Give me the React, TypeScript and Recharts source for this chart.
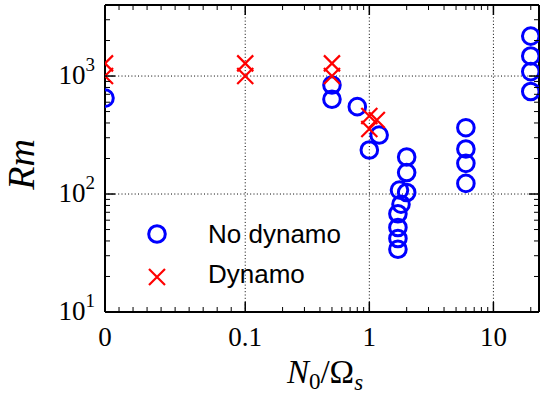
import { Legend, ReferenceLine, Scatter, ScatterChart, XAxis, YAxis } from "recharts";

// N0/Omega_s and Rm for the runs without and with a dynamo
const noDynamoN = [0, 0.5, 0.5, 0.8, 1.0, 1.2, 1.7, 1.7, 1.7, 1.7, 1.8, 1.75, 2, 2, 2, 6, 6, 6, 6, 20, 20, 20, 20];
const noDynamoRm = [650, 840, 635, 550, 236, 316, 34, 42, 52, 68, 82, 108, 103, 152, 206, 123, 182, 241, 365, 740, 1090, 1480, 2180];
const dynamoN = [0, 0, 0.1, 0.1, 0.5, 0.5, 1.0, 1.0, 1.15];
const dynamoRm = [1000, 1280, 1000, 1280, 1000, 1280, 356, 458, 424];

const seriesNames = ["No dynamo", "Dynamo"];

const xMajor = [0, 0.1, 1, 10];
const xTickLabels = ["0", "0.1", "1", "10"];
const xMinor = [
  0.01, 0.02, 0.03, 0.04, 0.05, 0.06, 0.07, 0.08, 0.09,
  0.2, 0.3, 0.4, 0.5, 0.6, 0.7, 0.8, 0.9,
  2, 3, 4, 5, 6, 7, 8, 9, 20,
];
const yMajor = [10, 100, 1000];
const yTickExponents = ["1", "2", "3"];
const yMinor = [20, 30, 40, 50, 60, 70, 80, 90, 200, 300, 400, 500, 600, 700, 800, 900, 2000, 3000];

const X_MAX = 23.3;
const Y_DOMAIN = [10, 4000];

// symlog-style axis: linear below 0.1, log above
const LIN_THRESH = 0.1;
const LIN_WIDTH = 1.13;
const symlog = (v: number) =>
  v <= LIN_THRESH ? (v / LIN_THRESH) * LIN_WIDTH : LIN_WIDTH + Math.log10(v / LIN_THRESH);

const SERIF = "'Liberation Serif', 'DejaVu Serif', serif";
const SANS = "'Liberation Sans', Arial, sans-serif";

const noDynamo = noDynamoN.map((n, i) => ({ x: symlog(n), y: noDynamoRm[i] }));
const dynamo = dynamoN.map((n, i) => ({ x: symlog(n), y: dynamoRm[i] }));

const xMajorT = xMajor.map(symlog);
const xTicks = [...xMajor, ...xMinor].map(symlog).sort((a, b) => a - b);
const yTicks = [...yMajor, ...yMinor].sort((a, b) => a - b);

const majorX = (v: number) => xMajorT.findIndex((t) => Math.abs(t - v) < 1e-6);
const majorY = (v: number) => yMajor.findIndex((t) => Math.abs(t - v) < 1e-6);

function BottomTick({ x, y, payload }: any) {
  const i = majorX(payload.value);
  const major = i >= 0;
  return (
    <g>
      <line x1={x} x2={x} y1={y} y2={y - (major ? 10 : 5)} stroke="#000" strokeWidth={major ? 1.5 : 1} />
      {major && (
        <text x={x} y={y + 34} textAnchor="middle" fontFamily={SERIF} fontSize={27} fill="#000">
          {xTickLabels[i]}
        </text>
      )}
    </g>
  );
}

function TopTick({ x, y, payload }: any) {
  const major = majorX(payload.value) >= 0;
  return <line x1={x} x2={x} y1={y} y2={y + (major ? 10 : 5)} stroke="#000" strokeWidth={major ? 1.5 : 1} />;
}

function LeftTick({ x, y, payload }: any) {
  const i = majorY(payload.value);
  const major = i >= 0;
  return (
    <g>
      <line x1={x} x2={x + (major ? 10 : 5)} y1={y} y2={y} stroke="#000" strokeWidth={major ? 1.5 : 1} />
      {major && (
        <text x={x - 10} y={y + 7.5} textAnchor="end" fontFamily={SERIF} fontSize={27} fill="#000">
          <tspan>10</tspan>
          <tspan dy={-13} fontSize={19}>
            {yTickExponents[i]}
          </tspan>
        </text>
      )}
    </g>
  );
}

function RightTick({ x, y, payload }: any) {
  const major = majorY(payload.value) >= 0;
  return <line x1={x} x2={x - (major ? 10 : 5)} y1={y} y2={y} stroke="#000" strokeWidth={major ? 1.5 : 1} />;
}

function OpenCircle({ cx, cy }: any) {
  return <circle cx={cx} cy={cy} r={8.3} fill="none" stroke="#0000ff" strokeWidth={3} />;
}

function RedCross({ cx, cy }: any) {
  const s = 8;
  return (
    <path
      d={`M${cx - s},${cy - s}L${cx + s},${cy + s}M${cx - s},${cy + s}L${cx + s},${cy - s}`}
      stroke="#ff0000"
      strokeWidth={2.2}
      fill="none"
    />
  );
}

function XAxisTitle(props: any) {
  const vb = props.viewBox ?? { x: 105, y: 312, width: 434, height: 90 };
  return (
    <text x={vb.x + vb.width / 2 + 3} y={vb.y + 71} textAnchor="middle" fontFamily={SERIF} fontSize={33} fill="#000">
      <tspan fontStyle="italic">N</tspan>
      <tspan fontSize={23} dy={6}>0</tspan>
      <tspan dy={-6}>/Ω</tspan>
      <tspan fontSize={23} fontStyle="italic" dy={7}>s</tspan>
    </text>
  );
}

function YAxisTitle(props: any) {
  const vb = props.viewBox ?? { x: 0, y: 5, width: 105, height: 307 };
  const cx = vb.x + 34;
  const cy = vb.y + vb.height / 2 + 6;
  return (
    <text
      x={cx}
      y={cy}
      transform={`rotate(-90 ${cx} ${cy})`}
      textAnchor="middle"
      fontFamily={SERIF}
      fontStyle="italic"
      fontSize={38}
      fill="#000"
    >
      Rm
    </text>
  );
}

function LegendBox({ payload }: any) {
  const items = seriesNames
    .map((name) => (payload ?? []).find((p: any) => p.value === name))
    .filter(Boolean);
  return (
    <svg width={220} height={80} style={{ display: "block", overflow: "visible" }}>
      {items.map((item: any, i: number) => (
        <g key={item.value}>
          {item.value === seriesNames[0] ? (
            <OpenCircle cx={17} cy={19 + i * 43} />
          ) : (
            <RedCross cx={17} cy={19 + i * 43} />
          )}
          <text x={68} y={28 + i * 40} fontFamily={SANS} fontSize={26} fill="#000">
            {item.value}
          </text>
        </g>
      ))}
    </svg>
  );
}

export default function App() {
  const grid = { stroke: "#000", strokeWidth: 1, strokeDasharray: "1 2.3" };
  const axisLine = { stroke: "#000", strokeWidth: 2 };
  return (
    <div style={{ position: "absolute", left: 0, top: 0, width: 540, height: 402, background: "#fff" }}>
      <ScatterChart width={540} height={402} margin={{ top: 0, right: 0, bottom: 0, left: 0 }}>
        <XAxis
          xAxisId="bottom"
          type="number"
          dataKey="x"
          domain={[0, symlog(X_MAX)]}
          allowDataOverflow
          ticks={xTicks}
          interval={0}
          tick={<BottomTick />}
          tickLine={false}
          tickSize={0}
          tickMargin={0}
          axisLine={axisLine}
          height={90}
          label={XAxisTitle}
        />
        <XAxis
          xAxisId="top"
          orientation="top"
          type="number"
          dataKey="x"
          domain={[0, symlog(X_MAX)]}
          allowDataOverflow
          ticks={xTicks}
          interval={0}
          tick={<TopTick />}
          tickLine={false}
          tickSize={0}
          tickMargin={0}
          axisLine={axisLine}
          height={5}
        />
        <YAxis
          yAxisId="left"
          type="number"
          dataKey="y"
          scale="log"
          domain={Y_DOMAIN}
          allowDataOverflow
          ticks={yTicks}
          interval={0}
          tick={<LeftTick />}
          tickLine={false}
          tickSize={0}
          tickMargin={0}
          axisLine={axisLine}
          width={105}
          label={YAxisTitle}
        />
        <YAxis
          yAxisId="right"
          orientation="right"
          type="number"
          dataKey="y"
          scale="log"
          domain={Y_DOMAIN}
          allowDataOverflow
          ticks={yTicks}
          interval={0}
          tick={<RightTick />}
          tickLine={false}
          tickSize={0}
          tickMargin={0}
          axisLine={axisLine}
          width={1}
        />
        {xMajor.slice(1).map((v) => (
          <ReferenceLine key={`gx${v}`} x={symlog(v)} xAxisId="bottom" yAxisId="left" {...grid} />
        ))}
        {yMajor.slice(1).map((v) => (
          <ReferenceLine key={`gy${v}`} y={v} xAxisId="bottom" yAxisId="left" {...grid} />
        ))}
        <Scatter
          name={seriesNames[0]}
          data={noDynamo}
          xAxisId="bottom"
          yAxisId="left"
          shape={<OpenCircle />}
          fill="#0000ff"
          isAnimationActive={false}
        />
        <Scatter
          name={seriesNames[1]}
          data={dynamo}
          xAxisId="bottom"
          yAxisId="left"
          shape={<RedCross />}
          fill="#ff0000"
          isAnimationActive={false}
        />
        <Scatter
          name="frame"
          data={noDynamo}
          xAxisId="top"
          yAxisId="right"
          shape={() => <g />}
          legendType="none"
          isAnimationActive={false}
        />
        <Legend
          layout="vertical"
          align="center"
          verticalAlign="middle"
          wrapperStyle={{ left: 140, top: 215, width: 220, height: 80 }}
          content={<LegendBox />}
        />
      </ScatterChart>
    </div>
  );
}
